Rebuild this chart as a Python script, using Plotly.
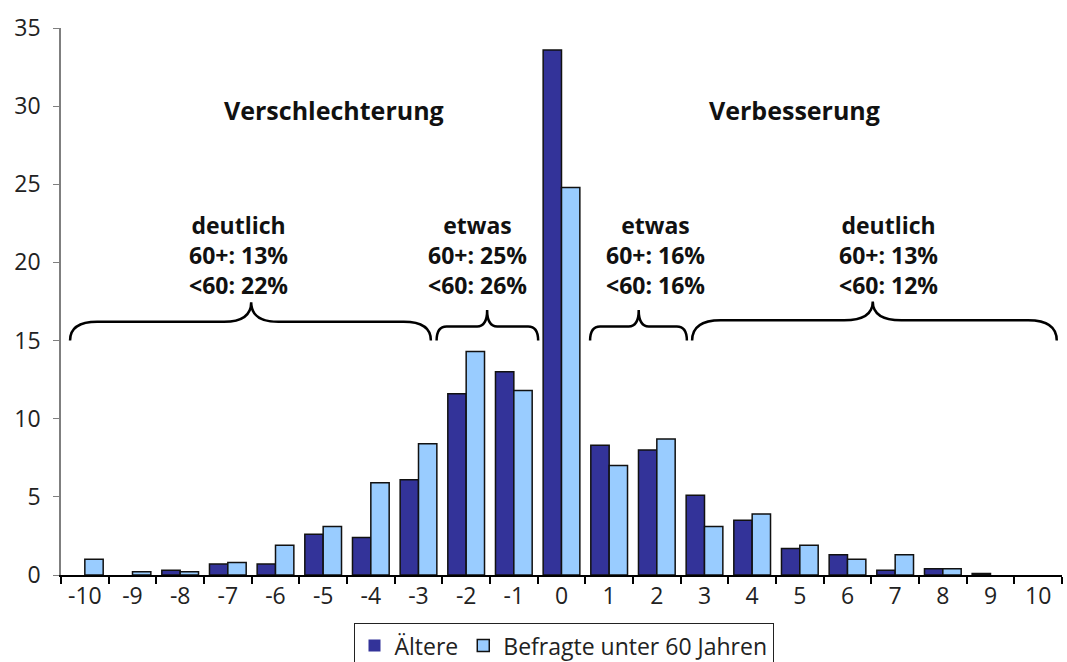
import plotly.graph_objects as go

# Veränderung auf der Skala von -10 bis +10 (Anteile in %)
kategorien = [str(v) for v in range(-10, 11)]
aeltere = [0, 0, 0.3, 0.7, 0.7, 2.6, 2.4, 6.1, 11.6, 13.0, 33.6,
           8.3, 8.0, 5.1, 3.5, 1.7, 1.3, 0.3, 0.4, 0.1, 0]
unter_60 = [1.0, 0.2, 0.2, 0.8, 1.9, 3.1, 5.9, 8.4, 14.3, 11.8, 24.8,
            7.0, 8.7, 3.1, 3.9, 1.9, 1.0, 1.3, 0.4, 0, 0]

serien_namen = ["Ältere", "Befragte unter 60 Jahren"]
serien_farben = ["#333399", "#99CCFF"]

# Gruppen-Beschriftungen über den Klammern
gruppen_texte = [
    "deutlich<br>60+: 13%<br><60: 22%",
    "etwas<br>60+: 25%<br><60: 26%",
    "etwas<br>60+: 16%<br><60: 16%",
    "deutlich<br>60+: 13%<br><60: 12%",
]
gruppen_x = [-6.77, -1.77, 1.98, 6.87]
ueberschriften = ["Verschlechterung", "Verbesserung"]
ueberschriften_x = [-4.77, 4.88]

# geschweifte Klammern: (start, ende, spitze, radius, y_ende, y_linie, y_spitze)
klammern = [
    (-10.31, -2.74, -6.51, 0.57, 15.0, 16.2, 17.45),
    (-2.62, -0.49, -1.56, 0.21, 15.0, 15.9, 16.95),
    (0.60, 2.63, 1.62, 0.21, 15.0, 15.9, 16.95),
    (2.74, 10.39, 6.53, 0.60, 15.0, 16.3, 17.5),
]

n_kat = len(kategorien)


def to_paper(v):
    return (v + 10.5) / n_kat


def klammer_pfad(x0, x1, xm, r, ye, yl, yp):
    p = to_paper
    return (
        f"M {p(x0)},{ye} Q {p(x0)},{yl} {p(x0 + r)},{yl} "
        f"L {p(xm - r)},{yl} Q {p(xm)},{yl} {p(xm)},{yp} "
        f"Q {p(xm)},{yl} {p(xm + r)},{yl} "
        f"L {p(x1 - r)},{yl} Q {p(x1)},{yl} {p(x1)},{ye}"
    )


fig = go.Figure()
for name, werte, farbe in zip(serien_namen, [aeltere, unter_60], serien_farben):
    # leere Kategorien ohne Umriss, damit kein Strich auf der Achse bleibt
    rand = [1.5 if w > 0 else 0 for w in werte]
    fig.add_trace(go.Bar(
        x=kategorien, y=werte, name=name,
        marker=dict(color=farbe, line=dict(color="#111111", width=rand)),
    ))

shapes = []
for k in klammern:
    shapes.append(dict(
        type="path", xref="paper", yref="y", path=klammer_pfad(*k),
        line=dict(color="black", width=2.5),
    ))

annotations = []
for txt, xv in zip(gruppen_texte, gruppen_x):
    annotations.append(dict(
        text=f"<b>{txt}</b>", x=to_paper(xv), y=20.5, xref="paper", yref="y",
        showarrow=False, xanchor="center", yanchor="middle",
        font=dict(size=23, color="#111111"), align="center",
    ))
for txt, xv in zip(ueberschriften, ueberschriften_x):
    annotations.append(dict(
        text=f"<b>{txt}</b>", x=to_paper(xv), y=29.75, xref="paper", yref="y",
        showarrow=False, xanchor="center", yanchor="middle",
        font=dict(size=25, color="#111111"),
    ))

fig.update_layout(
    width=1067, height=662,
    margin=dict(l=61, r=5, t=28, b=87, autoexpand=False),
    paper_bgcolor="white", plot_bgcolor="white",
    font=dict(family="Open Sans", size=23, color="#222222"),
    barmode="group", bargap=0.23, bargroupgap=0,
    showlegend=True,
    legend=dict(
        orientation="h", x=0.502, xanchor="center", y=-0.088, yanchor="top",
        bordercolor="#222222", borderwidth=1, font=dict(size=23),
        itemwidth=30, tracegroupgap=0,
    ),
    xaxis=dict(
        type="category", showline=True, linecolor="black", linewidth=1.5,
        ticks="outside", tickson="boundaries", ticklen=7, tickcolor="black",
        tickwidth=1.5, showgrid=False, zeroline=False,
    ),
    yaxis=dict(
        range=[0, 35], dtick=5, showline=True, linecolor="#7f7f7f",
        linewidth=1.5, ticks="outside", ticklen=6, tickcolor="#7f7f7f",
        showgrid=False, zeroline=False, ticklabelstandoff=8,
    ),
    shapes=shapes,
    annotations=annotations,
)

fig.write_html("out.html")
